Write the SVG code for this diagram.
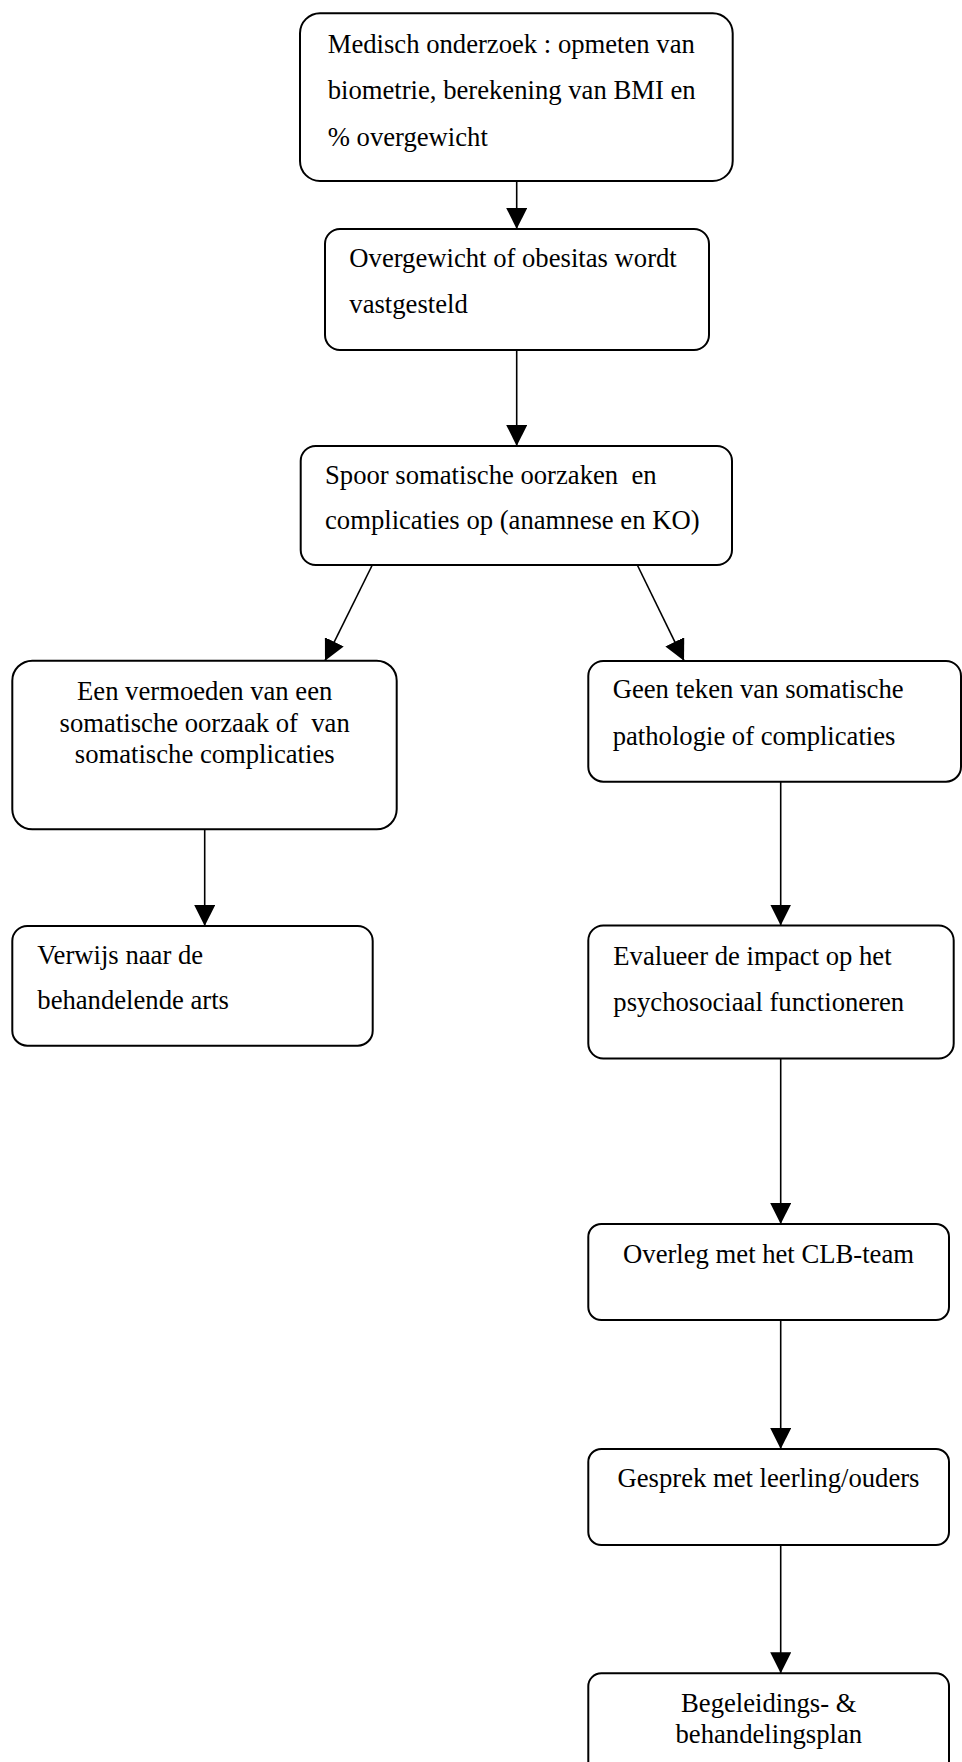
<svg xmlns="http://www.w3.org/2000/svg" width="962" height="1762" viewBox="0 0 962 1762">
<style>
.box{fill:#fff;stroke:#000;stroke-width:2}
.t{font-family:"Liberation Serif","Times New Roman",serif;font-size:26.67px;fill:#000}
.c{text-anchor:middle}
.edge{stroke:#000;stroke-width:1.6;fill:none;marker-end:url(#ah)}
</style>
<defs>
<marker id="ah" markerUnits="userSpaceOnUse" markerWidth="21" markerHeight="21" viewBox="0 0 20 20" refX="20" refY="10" orient="auto">
<path d="M0,0 L20,10 L0,20 z" fill="#000"/>
</marker>
</defs>
<rect width="962" height="1762" fill="#fff"/>
<g id="connectors">
<line class="edge" x1="516.7" y1="181" x2="516.7" y2="229"/>
<line class="edge" x1="516.7" y1="350" x2="516.7" y2="446"/>
<line class="edge" x1="372.3" y1="565" x2="325" y2="660.7"/>
<line class="edge" x1="637.3" y1="565" x2="684" y2="660.7"/>
<line class="edge" x1="204.7" y1="829.3" x2="204.7" y2="926"/>
<line class="edge" x1="780.7" y1="781.7" x2="780.7" y2="925.5"/>
<line class="edge" x1="780.7" y1="1058.5" x2="780.7" y2="1224"/>
<line class="edge" x1="780.7" y1="1320" x2="780.7" y2="1449"/>
<line class="edge" x1="780.7" y1="1545" x2="780.7" y2="1673.3"/>
</g>
<g id="n1">
<rect class="box" x="300" y="13.3" width="432.7" height="167.7" rx="20"/>
<text class="t" x="327.7" y="53">Medisch onderzoek : opmeten van</text>
<text class="t" x="327.7" y="99.3">biometrie, berekening van BMI en</text>
<text class="t" x="327.7" y="145.7">% overgewicht</text>
</g>
<g id="n2">
<rect class="box" x="325" y="229" width="384" height="121" rx="15"/>
<text class="t" x="349.3" y="266.7">Overgewicht of obesitas wordt</text>
<text class="t" x="349.3" y="313">vastgesteld</text>
</g>
<g id="n3">
<rect class="box" x="300.7" y="446" width="431.3" height="119" rx="15"/>
<text class="t" x="325" y="484" xml:space="preserve">Spoor somatische oorzaken  en</text>
<text class="t" x="325" y="529.3">complicaties op (anamnese en KO)</text>
</g>
<g id="n4">
<rect class="box" x="12.3" y="660.7" width="384.4" height="168.6" rx="20"/>
<text class="t c" x="204.7" y="700">Een vermoeden van een</text>
<text class="t c" x="204.7" y="731.7" xml:space="preserve">somatische oorzaak of  van</text>
<text class="t c" x="204.7" y="763.3">somatische complicaties</text>
</g>
<g id="n5">
<rect class="box" x="12.3" y="926" width="360.4" height="119.7" rx="15"/>
<text class="t" x="37.3" y="964">Verwijs naar de</text>
<text class="t" x="37.3" y="1009.3">behandelende arts</text>
</g>
<g id="n6">
<rect class="box" x="588.3" y="661" width="372.7" height="120.7" rx="15"/>
<text class="t" x="612.7" y="698.3">Geen teken van somatische</text>
<text class="t" x="612.7" y="745">pathologie of complicaties</text>
</g>
<g id="n7">
<rect class="box" x="588.3" y="925.5" width="365.4" height="133" rx="15"/>
<text class="t" x="613.3" y="965">Evalueer de impact op het</text>
<text class="t" x="613.3" y="1011">psychosociaal functioneren</text>
</g>
<g id="n8">
<rect class="box" x="588.3" y="1224" width="360.7" height="96" rx="13"/>
<text class="t c" x="768.5" y="1262.7">Overleg met het CLB-team</text>
</g>
<g id="n9">
<rect class="box" x="588.3" y="1449" width="360.7" height="96" rx="13"/>
<text class="t c" x="768.5" y="1487.3">Gesprek met leerling/ouders</text>
</g>
<g id="n10">
<rect class="box" x="588.3" y="1673.3" width="360.7" height="120" rx="13"/>
<text class="t c" x="768.8" y="1712">Begeleidings- &amp;</text>
<text class="t c" x="768.8" y="1743">behandelingsplan</text>
</g>
</svg>
